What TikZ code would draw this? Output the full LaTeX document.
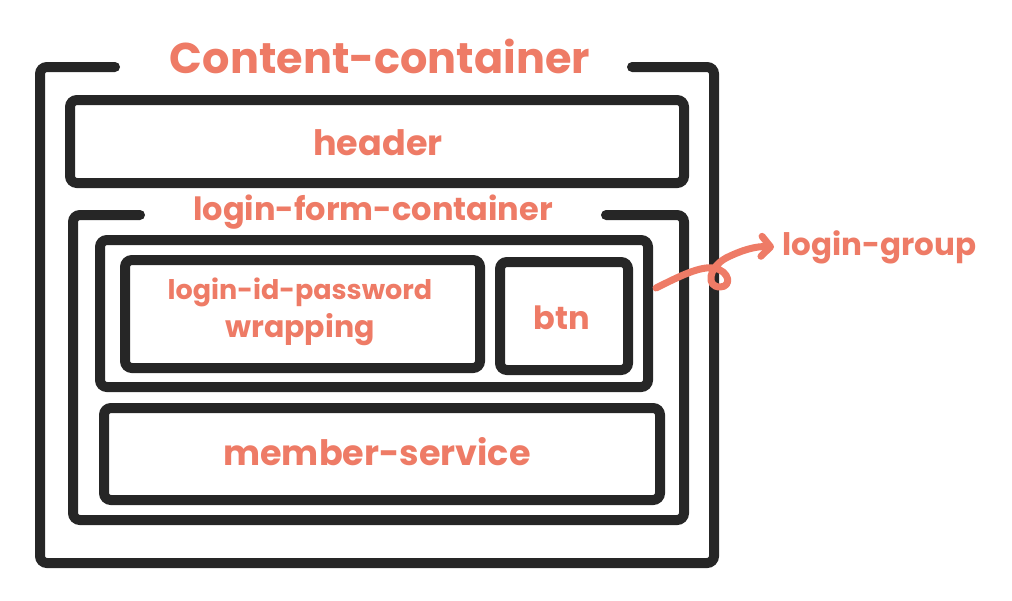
\documentclass[tikz,border=0pt]{standalone}
\usepackage{fontspec}
\setmainfont{Poppins}
\usetikzlibrary{arrows.meta}
\definecolor{ink}{HTML}{262626}
\definecolor{salmon}{HTML}{EE7B66}
\tikzset{
  box/.style={draw=ink, line width=10pt, rounded corners=7pt, inner sep=0pt},
  frame/.style={draw=ink, line width=10pt, line cap=round, rounded corners=7pt},
  lbl/.style={text=salmon, inner sep=0pt, font=\bfseries\fontsize{#1}{#1}\selectfont},
  lbl/.default=30,
  pointer/.style={draw=salmon, line width=7pt, line cap=round, line join=round, -{Straight Barb[length=9pt,width=20pt,round]}}
}
\begin{document}
\begin{tikzpicture}[x=1pt,y=-1pt]
\useasboundingbox (0,0) rectangle (1012,600);
% content-container frame with gap
\coordinate (c1) at (115,67);
\coordinate (c2) at (632,67);
\draw[frame] (c1) -- (40,67) -- (40,563) -- (714,563) -- (714,67) -- (c2);
\node[lbl=43] (ctitle) at (380,56) {Content-container};
% header
\node[box, minimum width=614pt, minimum height=83pt] (header) at (377,141.5) {};
\node[lbl=35] (htext) at (378,143) {header};
% login-form-container frame
\coordinate (f1) at (140,215);
\coordinate (f2) at (606,215);
\draw[frame] (f1) -- (73,215) -- (73,520) -- (684,520) -- (684,215) -- (f2);
\node[lbl=32] (ftitle) at (373,212) {login-form-container};
% login group
\node[box, minimum width=548pt, minimum height=147pt] (group) at (374,313.5) {};
\node[box, minimum width=355pt, minimum height=108pt] (idbox) at (302.5,314) {};
\node[lbl=27, align=center] (idtext) at (300,312) {login-id-password\\[5pt]{\fontsize{30}{30}\selectfont wrapping}};
\node[box, minimum width=128pt, minimum height=108pt] (btn) at (564,316) {};
\node[lbl=32] (btntext) at (562,318) {btn};
% member-service
\node[box, minimum width=556pt, minimum height=92pt] (member) at (382,454) {};
\node[lbl=35] (mtext) at (377,452) {member-service};
% login-group label
\node[lbl=31, anchor=west] (lg) at (782,247) {login-group};
\coordinate (as) at (656,288);
\draw[pointer] (as) .. controls (680,276) and (700,266) .. (714,268)
  .. controls (730,271) and (732,287) .. (720,287)
  .. controls (706,287) and (708,268) .. (726,258)
  .. controls (742,250) and (756,246) .. ([xshift=-8pt]lg.west);
\end{tikzpicture}
\end{document}
